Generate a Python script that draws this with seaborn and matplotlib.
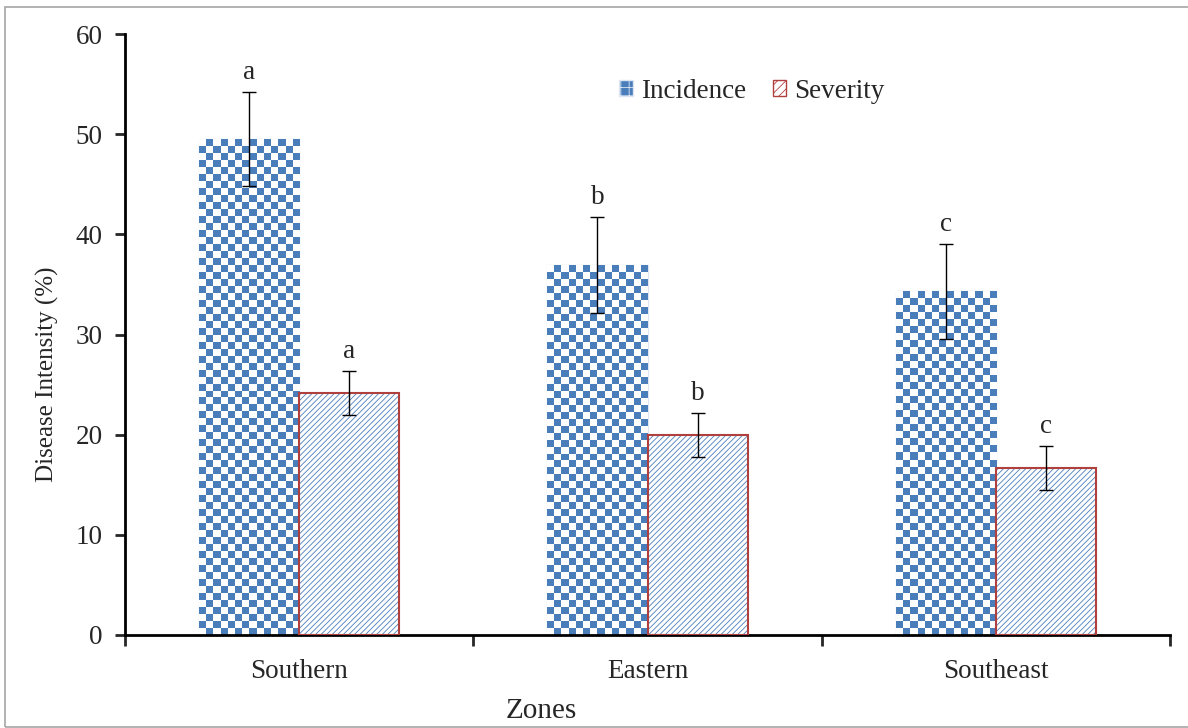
import numpy as np
import pandas as pd
import matplotlib
matplotlib.use('Agg')
import matplotlib.pyplot as plt
import seaborn as sns
from matplotlib.patches import Patch, Rectangle
from matplotlib.colors import ListedColormap

# ===== 数据 =====
zones = ['Southern', 'Eastern', 'Southeast']
series = ['Incidence', 'Severity']
incidence = [49.5, 36.9, 34.3]
incidence_err = [4.7, 4.8, 4.7]
severity = [24.2, 20.0, 16.7]
severity_err = [2.2, 2.2, 2.2]
inc_letters = ['a', 'b', 'c']
sev_letters = ['a', 'b', 'c']

df = pd.DataFrame({
    'Zone': zones * 2,
    'Type': ['Incidence'] * 3 + ['Severity'] * 3,
    'Value': incidence + severity,
})

sns.set_style('white')
plt.rcParams['font.family'] = ['Liberation Serif', 'DejaVu Serif']
plt.rcParams['hatch.linewidth'] = 0.6

BLUE = '#4a7ebb'
RED = '#b0403d'
FS = 19.5

fig = plt.figure(figsize=(11.88, 7.28), dpi=100)
ax = fig.add_axes([125 / 1188, 93 / 728, 1045 / 1188, 601 / 728])

sns.barplot(data=df, x='Zone', y='Value', hue='Type', order=zones,
            hue_order=series, width=0.575, gap=0, errorbar=None,
            palette=[BLUE, 'white'], legend=False, ax=ax)

ax.set_xlim(-0.5, 2.5)
ax.set_ylim(0, 60)

inc_bars = ax.containers[0]
sev_bars = ax.containers[1]

# 棋盘格填充（发病率）
cmap = ListedColormap(['white', BLUE])
for p in inc_bars:
    p.set_facecolor('none')
    p.set_edgecolor('#dce6f2')
    p.set_linewidth(1)
    x0, y0 = p.get_x(), p.get_y()
    x1, y1 = x0 + p.get_width(), y0 + p.get_height()
    (px0, py0), (px1, py1) = ax.transData.transform([(x0, y0), (x1, y1)])
    nx = max(1, int(round((px1 - px0) / 7)))
    ny = max(1, int(round((py1 - py0) / 7)))
    ii, jj = np.indices((ny, nx))
    board = (ii + jj) % 2
    im = ax.imshow(board, cmap=cmap, extent=(x0, x1, y0, y1), origin='lower',
                   aspect='auto', interpolation='nearest', zorder=1.5)
    im.set_clip_path(p)

# 斜线填充（严重度），红色边框
for p in sev_bars:
    p.set_facecolor('white')
    p.set_edgecolor(BLUE)
    p.set_hatch('//////')
    p.set_linewidth(0)
    ax.add_patch(Rectangle((p.get_x(), p.get_y()), p.get_width(), p.get_height(),
                           fill=False, edgecolor=RED, linewidth=1.5, zorder=3))

# 误差线与显著性字母
for bars, vals, errs, letters in [(inc_bars, incidence, incidence_err, inc_letters),
                                  (sev_bars, severity, severity_err, sev_letters)]:
    xs = [p.get_x() + p.get_width() / 2 for p in bars]
    ax.errorbar(xs, vals, yerr=errs, fmt='none', ecolor='black',
                elinewidth=1, capsize=5, capthick=1, zorder=4)
    for x, v, e, t in zip(xs, vals, errs, letters):
        ax.text(x, v + e + 0.7, t, ha='center', va='bottom', fontsize=FS)
ax.set_xlim(-0.5, 2.5)
ax.set_ylim(0, 60)

# 坐标轴
for s in ['top', 'right']:
    ax.spines[s].set_visible(False)
for s in ['left', 'bottom']:
    ax.spines[s].set_linewidth(2)
    ax.spines[s].set_color('black')

ax.set_yticks(np.arange(0, 61, 10))
ax.tick_params(axis='y', direction='out', length=7, width=2, labelsize=FS, left=True, pad=9)
ax.set_xticks([-0.5, 0.5, 1.5, 2.5])
ax.set_xticklabels([])
ax.tick_params(axis='x', which='major', direction='out', length=8, width=2, bottom=True)
ax.set_xticks([0, 1, 2], minor=True)
ax.set_xticklabels(zones, minor=True)
ax.tick_params(axis='x', which='minor', length=0, labelsize=FS, pad=17)

ax.set_ylabel('Disease Intensity (%)', fontsize=18)
ax.yaxis.set_label_coords(-0.074, 0.434)
ax.set_xlabel('Zones', fontsize=21)
ax.xaxis.set_label_coords(0.398, -0.127)
ax.xaxis.label.set_va('center')
ax.yaxis.label.set_va('center')

# 图例
handles = [Patch(facecolor=BLUE, edgecolor='#dce6f2', hatch='++', label='Incidence'),
           Patch(facecolor='white', edgecolor=RED, hatch='////', label='Severity')]
leg = ax.legend(handles=handles, loc='center', bbox_to_anchor=(0.6, 0.905),
                ncol=2, frameon=False, fontsize=FS, handlelength=0.5, handleheight=0.5,
                handletextpad=0.3, columnspacing=1.0)

# 图外框
fig.add_artist(Rectangle((5 / 1188, 1 / 728), 1.2, 720 / 728, transform=fig.transFigure,
                         fill=False, edgecolor='#a6a6a6', linewidth=1.2))

fig.savefig('out.png', dpi=100)
